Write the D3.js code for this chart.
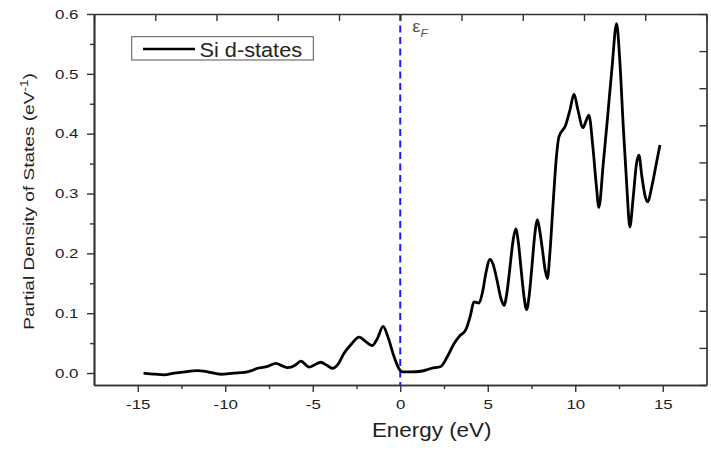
<!DOCTYPE html>
<html>
<head>
<meta charset="utf-8">
<script src="https://cdn.jsdelivr.net/npm/d3@7"></script>
<style>
  body { margin: 0; background: #fff; }
  svg { display: block; font-family: "Liberation Sans", Arial, sans-serif; }
</style>
</head>
<body>
<div id="chart"></div>
<script>
// Données : PDOS des états d du Si
const energy = [-14.67, -14.0, -13.49, -12.9, -12.54, -11.58, -11.0, -10.25, -9.5, -8.92,
    -8.5, -8.16, -7.58, -7.11, -6.75, -6.44, -6.0, -5.68, -5.21, -4.54,
    -4.2, -3.87, -3.55, -3.21, -2.8, -2.35, -1.95, -1.59, -1.3, -0.98,
    -0.7, -0.35, -0.05, 0.12, 0.6, 1.17, 1.8, 2.31, 2.7, 3.07,
    3.4, 3.74, 4.0, 4.21, 4.5, 4.7, 4.9, 5.13, 5.3, 5.53,
    5.75, 5.93, 6.1, 6.27, 6.45, 6.6, 6.75, 6.91, 7.07, 7.22,
    7.37, 7.53, 7.69, 7.84, 7.98, 8.13, 8.28, 8.41, 8.55, 8.75,
    8.92, 9.07, 9.45, 9.7, 9.93, 10.15, 10.44, 10.6, 10.78, 11.0,
    11.2, 11.35, 11.6, 11.83, 12.1, 12.36, 12.55, 12.74, 12.95, 13.12,
    13.3, 13.5, 13.64, 13.8, 14.0, 14.12, 14.4, 14.6, 14.84];
const pdos = [0.000, -0.002, -0.003, 0.000, 0.001, 0.004, 0.002, -0.002, 0.000, 0.001,
    0.004, 0.008, 0.011, 0.016, 0.012, 0.009, 0.013, 0.020, 0.010, 0.018,
    0.013, 0.008, 0.015, 0.033, 0.048, 0.060, 0.052, 0.046, 0.058, 0.078,
    0.060, 0.027, 0.006, 0.002, 0.002, 0.003, 0.008, 0.011, 0.028, 0.049,
    0.062, 0.072, 0.095, 0.119, 0.117, 0.135, 0.168, 0.190, 0.182, 0.155,
    0.125, 0.113, 0.135, 0.177, 0.222, 0.241, 0.218, 0.172, 0.128, 0.106,
    0.130, 0.180, 0.232, 0.256, 0.236, 0.205, 0.172, 0.158, 0.200, 0.290,
    0.360, 0.395, 0.414, 0.440, 0.466, 0.440, 0.410, 0.420, 0.431, 0.380,
    0.315, 0.277, 0.350, 0.422, 0.510, 0.584, 0.520, 0.414, 0.310, 0.244,
    0.290, 0.350, 0.364, 0.330, 0.295, 0.286, 0.315, 0.345, 0.381];

const xTicks = [-15, -10, -5, 0, 5, 10, 15];
const xMinorTicks = [-12.5, -7.5, -2.5, 2.5, 7.5, 12.5];
const yTicks = [0.0, 0.1, 0.2, 0.3, 0.4, 0.5, 0.6];
const yMinorTicks = [0.05, 0.15, 0.25, 0.35, 0.45, 0.55];
const xDomain = [-17.5, 17.5];
const yDomain = [-0.02, 0.6];
const fermiLevel = 0;
const seriesName = "Si d-states";

// Configuration
const W = 711, H = 451;
const plot = {left: 94, right: 706.5, top: 14, bottom: 385};
const axisColor = "#333";
const textColor = "#222";

const svg = d3.select("#chart").append("svg")
    .attr("width", W)
    .attr("height", H);

const x = d3.scaleLinear().domain(xDomain).range([plot.left, plot.right]);
const y = d3.scaleLinear().domain(yDomain).range([plot.bottom, plot.top]);

// Ligne de Fermi (pointillés bleus)
svg.append("line")
    .attr("x1", x(fermiLevel)).attr("x2", x(fermiLevel))
    .attr("y1", y(yDomain[1])).attr("y2", y(yDomain[0]))
    .attr("stroke", "#1c1cf0")
    .attr("stroke-width", 2)
    .attr("stroke-dasharray", "7,4.5");

// Courbe
const line = d3.line()
    .x((d, i) => x(energy[i]))
    .y(d => y(d))
    .curve(d3.curveMonotoneX);

svg.append("path")
    .datum(pdos)
    .attr("fill", "none")
    .attr("stroke", "#000")
    .attr("stroke-width", 2.8)
    .attr("stroke-linejoin", "round")
    .attr("d", line);

// Axes
function styleAxis(g) {
    g.selectAll(".domain").attr("stroke", axisColor).attr("stroke-width", 1.7);
    g.selectAll(".tick line").attr("stroke", axisColor).attr("stroke-width", 1.4);
}

// axe du bas : majeures + mineures
svg.append("g")
    .attr("transform", `translate(0,${plot.bottom})`)
    .call(d3.axisBottom(x).tickValues(xMinorTicks).tickSize(4).tickSizeOuter(0).tickFormat(""))
    .call(styleAxis);

const xAxis = svg.append("g")
    .attr("transform", `translate(0,${plot.bottom})`)
    .call(d3.axisBottom(x).tickValues(xTicks).tickSize(7).tickSizeOuter(0)
        .tickFormat(d => String(d)))
    .call(styleAxis);
xAxis.selectAll("text")
    .attr("y", 14)
    .attr("fill", textColor)
    .style("font-size", "13.5px")
    .attr("transform", "scale(1.25,1)");

// axe de gauche
svg.append("g")
    .attr("transform", `translate(${plot.left},0)`)
    .call(d3.axisLeft(y).tickValues(yMinorTicks).tickSize(4).tickSizeOuter(0).tickFormat(""))
    .call(styleAxis);

const yAxis = svg.append("g")
    .attr("transform", `translate(${plot.left},0)`)
    .call(d3.axisLeft(y).tickValues(yTicks).tickSize(7).tickSizeOuter(0)
        .tickFormat(d3.format(".1f")))
    .call(styleAxis);
yAxis.selectAll("text")
    .attr("x", -15.5 / 1.25)
    .attr("fill", textColor)
    .style("font-size", "13.5px")
    .attr("transform", "scale(1.25,1)");

// axes du haut et de droite (graduations vers l'intérieur)
svg.append("g")
    .attr("transform", `translate(0,${plot.top})`)
    .call(d3.axisTop(x).tickValues(d3.range(0, 11).map(i => xDomain[0] + i * 3.5))
        .tickSize(-7).tickSizeOuter(0).tickFormat(""))
    .call(styleAxis);

svg.append("g")
    .attr("transform", `translate(${plot.right},0)`)
    .call(d3.axisRight(y).tickValues(d3.range(0, 11).map(i => yDomain[0] + i * 0.062))
        .tickSize(-7).tickSizeOuter(0).tickFormat(""))
    .call(styleAxis);

// Titres des axes
svg.append("text")
    .attr("transform", "translate(431.7,437.3) scale(1.15,1)")
    .attr("text-anchor", "middle")
    .attr("fill", textColor)
    .style("font-size", "19.5px")
    .text("Energy (eV)");

const yTitle = svg.append("text")
    .attr("transform", `translate(33.5,${(plot.top + plot.bottom) / 2 + 2}) rotate(-90) scale(1.23,1)`)
    .attr("text-anchor", "middle")
    .attr("fill", textColor)
    .style("font-size", "15.5px");
yTitle.append("tspan").text("Partial Density of States (eV");
yTitle.append("tspan").attr("dy", -6).style("font-size", "11px").text("-1");
yTitle.append("tspan").attr("dy", 6).text(")");

// Étiquette du niveau de Fermi
const ef = svg.append("text")
    .attr("transform", `translate(${x(fermiLevel) + 12},32) scale(1.15,1)`)
    .attr("fill", "#555")
    .style("font-size", "16px");
ef.append("tspan").text("ε");
ef.append("tspan").attr("dy", 5).style("font-size", "10.5px").style("font-style", "italic").text("F");

// Légende
const legend = svg.append("g");
legend.append("rect")
    .attr("x", 131.7).attr("y", 36.7)
    .attr("width", 181.6).attr("height", 23.3)
    .attr("fill", "#fff")
    .attr("stroke", "#555")
    .attr("stroke-width", 1);
legend.append("line")
    .attr("x1", 143).attr("x2", 195)
    .attr("y1", 49).attr("y2", 49)
    .attr("stroke", "#000")
    .attr("stroke-width", 2.6);
legend.append("text")
    .attr("transform", "translate(199.5,56.5) scale(1.06,1)")
    .attr("fill", textColor)
    .style("font-size", "20.5px")
    .text(seriesName);
</script>
</body>
</html>
